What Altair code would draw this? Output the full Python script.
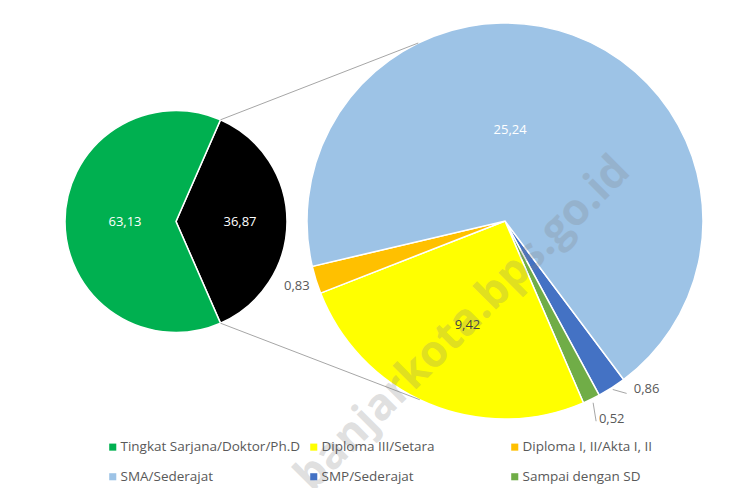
import math
import altair as alt
import pandas as pd

# ---------------- data ----------------
left_cats = ["Lainnya", "Tingkat Sarjana/Doktor/Ph.D"]
left_vals = [36.87, 63.13]
left_labels = ["36,87", "63,13"]

right_cats = ["SMP/Sederajat", "Sampai dengan SD", "Diploma III/Setara",
              "Diploma I, II/Akta I, II", "SMA/Sederajat"]
right_vals = [0.86, 0.52, 9.42, 0.83, 25.24]
right_labels = ["0,86", "0,52", "9,42", "0,83", "25,24"]

legend_order = ["Tingkat Sarjana/Doktor/Ph.D", "Diploma III/Setara",
                "Diploma I, II/Akta I, II", "SMA/Sederajat", "SMP/Sederajat",
                "Sampai dengan SD"]
color_domain = legend_order + ["Lainnya"]
color_range = ["#00B050", "#FFFF00", "#FFC000", "#9DC3E6", "#4472C4",
               "#70AD47", "#000000"]

watermark = "banjarkota.bps.go.id"

# ---------------- layout constants ----------------
W, H = 738, 480
L_CX, L_CY, L_R = 168, 213.5, 111
R_CX, R_CY, R_R = 497, 213, 198
FONT = "Open Sans"

left_start = 90 - left_vals[0] / sum(left_vals) * 180  # degrees
right_start = 143.2  # degrees

left_df = pd.DataFrame({"cat": left_cats, "val": left_vals,
                        "lab": left_labels, "idx": range(len(left_cats))})
right_df = pd.DataFrame({"cat": right_cats, "val": right_vals,
                         "lab": right_labels, "idx": range(len(right_cats))})

color = alt.Color("cat:N", scale=alt.Scale(domain=color_domain, range=color_range),
                  legend=alt.Legend(orient="none", legendX=98, legendY=432,
                                    direction="horizontal", columns=3,
                                    gridAlign="all", title=None,
                                    symbolType="square", symbolSize=50,
                                    symbolStrokeWidth=0, labelFont=FONT,
                                    labelFontSize=13.5, labelColor="#595959",
                                    labelLimit=400,
                                    columnPadding=6, rowPadding=15,
                                    labelOffset=1, padding=0,
                                    values=legend_order))


def theta(start_deg):
    a = math.radians(start_deg)
    return alt.Theta("val:Q", stack=True,
                     scale=alt.Scale(type="linear", range=[a, a + 2 * math.pi]))


def pie(df, cx, cy, r, start):
    return alt.Chart(df).mark_arc(outerRadius=r, stroke="white",
                                  strokeWidth=1.5).encode(
        theta=theta(start), order=alt.Order("idx:Q"), color=color,
        x=alt.value(cx), y=alt.value(cy))


def label(df, cx, cy, start, cat, radius, fill, dx=0, dy=0):
    return alt.Chart(df).mark_text(radius=radius, font=FONT, fontSize=13,
                                   color=fill, dx=dx, dy=dy).encode(
        theta=theta(start), order=alt.Order("idx:Q"),
        text=alt.condition(alt.datum.cat == cat, "lab:N", alt.value("")),
        x=alt.value(cx), y=alt.value(cy))


def polar(cx, cy, r, deg):
    a = math.radians(deg)
    return cx + r * math.sin(a), cy - r * math.cos(a)


def mids(vals, start):
    tot = sum(vals)
    out, acc = [], start
    for v in vals:
        span = v / tot * 360
        out.append(acc + span / 2)
        acc += span
    return out


def segment(p, q, col="#A6A6A6", w=1):
    d = pd.DataFrame({"k": [0]})
    return alt.Chart(d).mark_rule(color=col, strokeWidth=w).encode(
        x=alt.value(p[0]), y=alt.value(p[1]),
        x2=alt.value(q[0]), y2=alt.value(q[1]))


layers = []
layers.append(pie(left_df, L_CX, L_CY, L_R, left_start))
layers.append(pie(right_df, R_CX, R_CY, R_R, right_start))

# connector lines between pies
left_end = left_start + left_vals[0] / sum(left_vals) * 360
layers.append(segment(polar(L_CX, L_CY, L_R, left_start),
                      polar(R_CX, R_CY, R_R, 334)))
layers.append(segment(polar(L_CX, L_CY, L_R, left_end),
                      polar(R_CX, R_CY, R_R, 205.5)))

# leader lines for the small slices
rm = mids(right_vals, right_start)
layers.append(segment(polar(R_CX, R_CY, R_R + 2, rm[0]),
                      polar(R_CX, R_CY, R_R + 13, rm[0] - 2.6)))
layers.append(segment(polar(R_CX, R_CY, R_R + 4, rm[1]),
                      polar(R_CX, R_CY, R_R + 22, rm[1] + 1.4)))

# labels
layers.append(label(left_df, L_CX, L_CY, left_start, "Lainnya", 64, "white"))
layers.append(label(left_df, L_CX, L_CY, left_start,
                    "Tingkat Sarjana/Doktor/Ph.D", 51, "white"))
layers.append(label(right_df, R_CX, R_CY, right_start, "SMA/Sederajat", 97,
                    "white", dx=-28))
layers.append(label(right_df, R_CX, R_CY, right_start, "Diploma III/Setara",
                    113, "#404040", dx=6))
layers.append(label(right_df, R_CX, R_CY, right_start,
                    "Diploma I, II/Akta I, II", 218, "#595959"))
layers.append(label(right_df, R_CX, R_CY, right_start, "SMP/Sederajat", 220,
                    "#595959", dx=23, dy=-17))
layers.append(label(right_df, R_CX, R_CY, right_start, "Sampai dengan SD", 224,
                    "#595959", dx=9, dy=-4))

# watermark
wm = alt.Chart(pd.DataFrame({"t": [watermark]})).mark_text(
    angle=315, font=FONT, fontSize=44, fontWeight="bold", color="#808080",
    opacity=0.24).encode(text="t:N", x=alt.value(455), y=alt.value(316))
layers.append(wm)

chart = alt.layer(*layers).resolve_scale(theta="independent").properties(
    width=W, height=H, padding=0, autosize=alt.AutoSizeParams(type="none"),
    background="white").configure_view(strokeWidth=0)

chart.save("out.html", embed_options={"renderer": "svg", "actions": False})
